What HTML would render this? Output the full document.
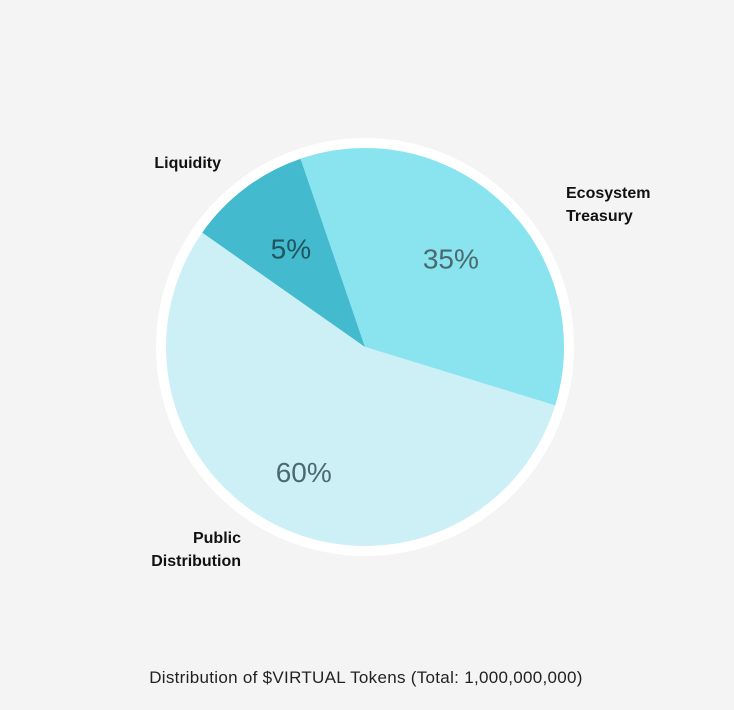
<!DOCTYPE html>
<html><head><meta charset="utf-8"><style>
html,body{margin:0;padding:0;background:#f4f4f4;}
svg{display:block;font-family:"Liberation Sans","DejaVu Sans",sans-serif;}
</style></head><body>
<svg id="chart" width="734" height="710" viewBox="0 0 734 710" xmlns="http://www.w3.org/2000/svg">
<rect width="734" height="710" fill="#f4f4f4"/>
<circle cx="365" cy="347" r="209" fill="#ffffff"/>
<g id="slices"></g>
<g id="labels"></g>
<text x="366" y="683" text-anchor="middle" font-size="17" fill="#222" letter-spacing="0.3">Distribution of $VIRTUAL Tokens (Total: 1,000,000,000)</text>
</svg>
<script>
const categories = ["Ecosystem Treasury", "Public Distribution", "Liquidity"];
const drawnShare = [35, 55, 10];
const valueLabels = ["35%", "60%", "5%"];
const startDeg = -18.9;
const colors = ["#8ae4ef", "#cdf0f6", "#43bacd"];
const cx = 365, cy = 347, r = 199;
const ns = "http://www.w3.org/2000/svg";
const total = drawnShare.reduce((a,b)=>a+b,0);
function pt(deg, rad){ const a = (deg-90)*Math.PI/180; return [cx+rad*Math.cos(a), cy+rad*Math.sin(a)]; }
const sg = document.getElementById('slices');
const lg = document.getElementById('labels');
let a0 = startDeg;
const pctPos = [[0.62],[0.7],[0.62]];
const outerLabels = [
  {lines:["Ecosystem","Treasury"], x:566, y:198, anchor:"start"},
  {lines:["Public","Distribution"], x:241, y:543, anchor:"end"},
  {lines:["Liquidity"], x:221, y:168, anchor:"end"}
];
drawnShare.forEach((v,i)=>{
  const sweep = v/total*360;
  const a1 = a0 + sweep;
  const p0 = pt(a0,r), p1 = pt(a1,r);
  const path = document.createElementNS(ns,'path');
  path.setAttribute('d', `M${cx},${cy} L${p0[0]},${p0[1]} A${r},${r} 0 ${sweep>180?1:0} 1 ${p1[0]},${p1[1]} Z`);
  path.setAttribute('fill', colors[i]);
  
  
  sg.appendChild(path);
  const mid = (a0+a1)/2;
  const lp = pt(mid, r*pctPos[i][0]);
  const t = document.createElementNS(ns,'text');
  t.setAttribute('x', lp[0]); t.setAttribute('y', lp[1]+10);
  t.setAttribute('text-anchor','middle');
  t.setAttribute('font-size','28');
  t.setAttribute('fill', i===2 ? '#1f5660' : '#4a6a70');
  t.textContent = valueLabels[i];
  
  
  lg.appendChild(t);
  const ol = outerLabels[i];
  const ct = document.createElementNS(ns,'text');
  ct.setAttribute('x', ol.x); ct.setAttribute('y', ol.y);
  ct.setAttribute('text-anchor', ol.anchor);
  ct.setAttribute('font-size','16'); ct.setAttribute('font-weight','bold'); ct.setAttribute('fill','#111');
  
  
  ol.lines.forEach((ln,k)=>{
    const ts = document.createElementNS(ns,'tspan');
    ts.setAttribute('x', ol.x); ts.setAttribute('dy', k===0?0:23);
    ts.textContent = ln;
    ct.appendChild(ts);
  });
  lg.appendChild(ct);
  a0 = a1;
});
</script>
</body></html>
